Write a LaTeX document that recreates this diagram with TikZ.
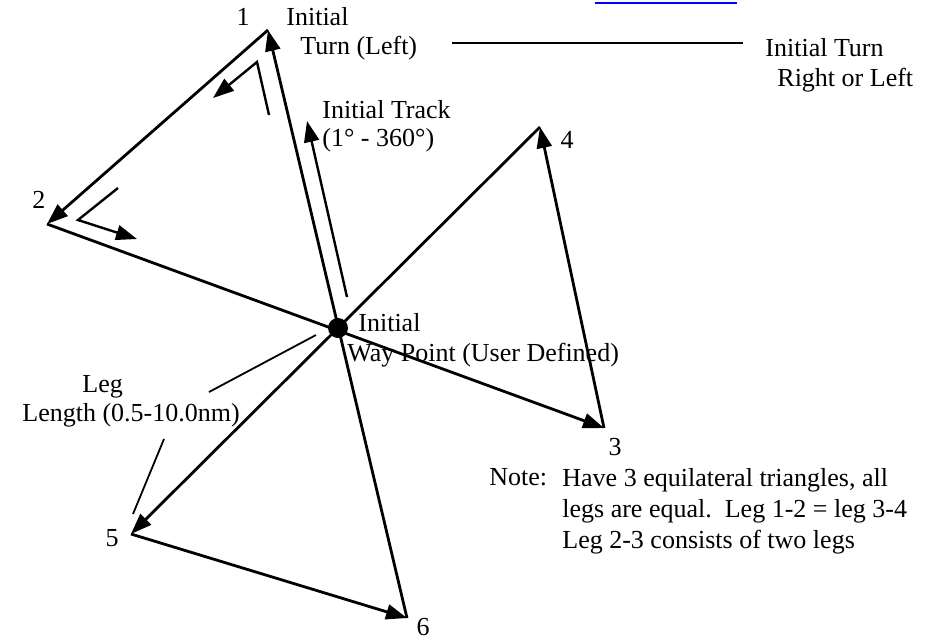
\documentclass[tikz,border=0pt]{standalone}
\usepackage{fontspec}
\setmainfont{Liberation Serif}
\usepackage{tikz}
\usetikzlibrary{arrows.meta}

\begin{document}
\begin{tikzpicture}[
      x=0.5pt, y=-0.5pt,
      font=\fontsize{13}{15.5}\selectfont,
      lbl/.style={inner sep=0pt, anchor=west},
      wpt/.style={circle, fill=black, inner sep=0pt, minimum size=10pt},
      leg/.style={-{Triangle[length=10.5pt,width=7.5pt]}, line width=1.4pt},
      aux/.style={-{Triangle[length=10.5pt,width=7.5pt]}, line width=1.2pt},
      ptr/.style={line width=0.9pt},
    ]
      \useasboundingbox (0,0) rectangle (937,639);

      % pattern corners
      \coordinate (p1) at (268,30);
      \coordinate (p2) at (47,224);
      \coordinate (p3) at (604,428);
      \coordinate (p4) at (540,127);
      \coordinate (p5) at (131,534);
      \coordinate (p6) at (407,618);
      \node[wpt] (wp) at (338,328) {};

      % legs
      \draw[leg] (p6) -- (p1);
      \draw[leg] (p1) -- (p2);
      \draw[leg] (p2) -- (p3);
      \draw[leg] (p3) -- (p4);
      \draw[leg] (p4) -- (p5);
      \draw[leg] (p5) -- (p6);

      % corner numbers
      \node[lbl, anchor=center] (n1) at (243,17)  {1};
      \node[lbl, anchor=center] (n2) at (39,200)  {2};
      \node[lbl, anchor=center] (n3) at (615,447) {3};
      \node[lbl, anchor=center] (n4) at (567,140) {4};
      \node[lbl, anchor=center] (n5) at (112,538) {5};
      \node[lbl, anchor=center] (n6) at (423,627) {6};

      % initial track
      \coordinate (trkA) at (347,297);
      \coordinate (trkB) at (307,121);
      \draw[aux] (trkA) -- (trkB);
      \node[lbl] (trk1) at (322,110) {Initial Track};
      \node[lbl] (trk2) at (322,140) {(1\textdegree{} - 360\textdegree)};

      % turn marks
      \coordinate (tA1) at (269,115);
      \coordinate (tA2) at (257,62);
      \coordinate (tA3) at (213,98);
      \draw[aux] (tA1) -- (tA2) -- (tA3);
      \coordinate (tB1) at (118,188);
      \coordinate (tB2) at (78,220);
      \coordinate (tB3) at (137,239);
      \draw[aux] (tB1) -- (tB2) -- (tB3);

      % turn labels
      \node[lbl] (turn1) at (286,17) {Initial};
      \node[lbl] (turn2) at (300,48) {Turn (Left)};
      \node[lbl] (rl1) at (765,48) {Initial Turn};
      \node[lbl] (rl2) at (777,80) {Right or Left};
      \coordinate (turnL) at (452,43);
      \coordinate (turnR) at (743,43);
      \draw[ptr] (turnL) -- (turnR);

      % way point
      \node[lbl] (wp1) at (358,323) {Initial};
      \node[lbl] (wp2) at (347,355) {Way Point (User Defined)};

      % leg length
      \node[lbl] (len1) at (82,387) {Leg};
      \node[lbl] (len2) at (22,415) {Length (0.5-10.0nm)};
      \coordinate (lenA) at (209,392);
      \coordinate (lenB) at (316,335);
      \coordinate (lenC) at (164,439);
      \coordinate (lenD) at (133,514);
      \draw[ptr] (lenA) -- (lenB);
      \draw[ptr] (lenC) -- (lenD);

      % note
      \node[lbl] (note) at (489,477) {Note:};
      \node[lbl, anchor=north west, align=left] (notetxt) at (562,468)
           {Have 3 equilateral triangles, all\\
            legs are equal.\ \ Leg 1-2 = leg 3-4\\
            Leg 2-3 consists of two legs};

      % stray link underline
      \draw[blue, line width=0.7pt] (595,3) -- (737,3);
    \end{tikzpicture}
\end{document}
